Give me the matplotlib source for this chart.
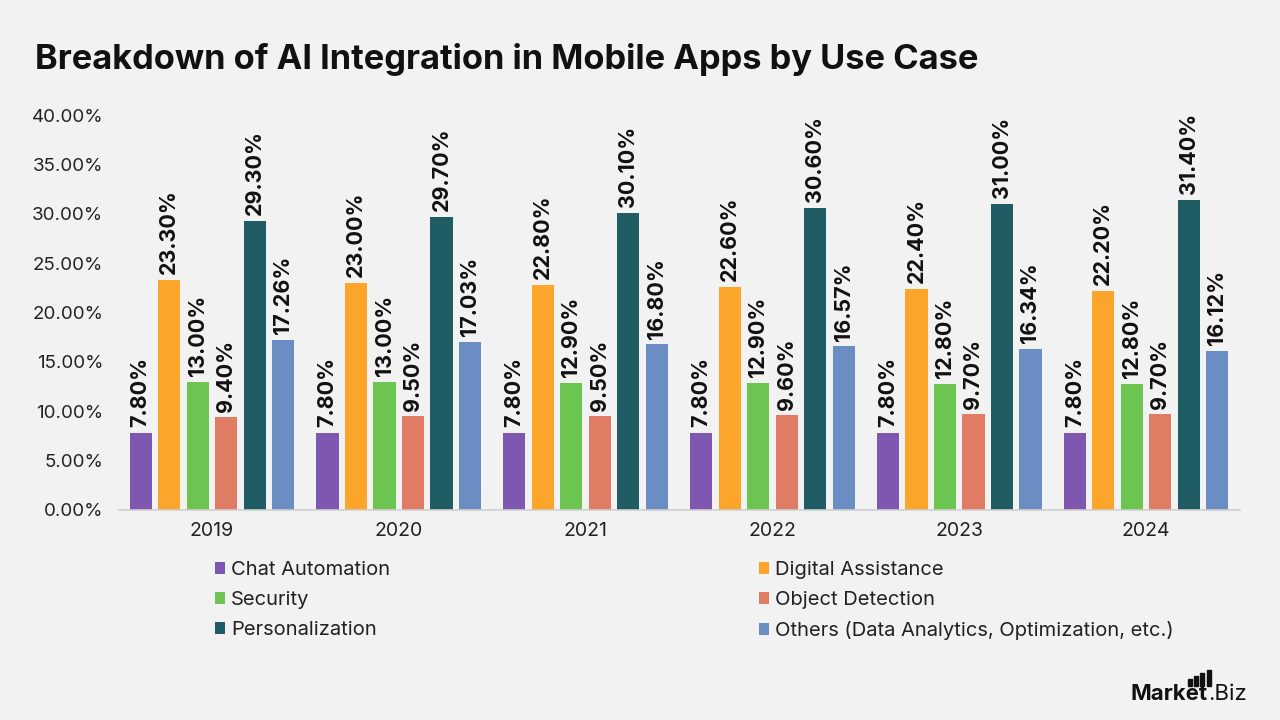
import matplotlib
matplotlib.use("Agg")
import matplotlib.pyplot as plt
from matplotlib.patches import Rectangle
import numpy as np

plt.rcParams['font.family'] = ['Inter', 'DejaVu Sans']

years = ["2019", "2020", "2021", "2022", "2023", "2024"]
series_names = ["Chat Automation", "Digital Assistance", "Security", "Object Detection",
                "Personalization", "Others (Data Analytics, Optimization, etc.)"]
chat_automation = [7.80, 7.80, 7.80, 7.80, 7.80, 7.80]
digital_assistance = [23.30, 23.00, 22.80, 22.60, 22.40, 22.20]
security = [13.00, 13.00, 12.90, 12.90, 12.80, 12.80]
object_detection = [9.40, 9.50, 9.50, 9.60, 9.70, 9.70]
personalization = [29.30, 29.70, 30.10, 30.60, 31.00, 31.40]
others = [17.26, 17.03, 16.80, 16.57, 16.34, 16.12]
series_values = [chat_automation, digital_assistance, security, object_detection, personalization, others]
colors = ["#7E57B0", "#FBA52A", "#6CC551", "#E07B64", "#1F5C63", "#6A8EC4"]
yticks = [0, 5, 10, 15, 20, 25, 30, 35, 40]

bg = "#F2F2F2"
fig = plt.figure(figsize=(12.8, 7.2), dpi=100, facecolor=bg)
ax = fig.add_axes([118.5/1280, 1 - 510/720, (1239.5-118.5)/1280, (510-115)/720])
ax.set_facecolor(bg)

x = np.arange(len(years))
pitch = 0.1525
width = 0.118
handles = []
for i, (name, vals, c) in enumerate(zip(series_names, series_values, colors)):
    pos = x + (i - 2.5) * pitch
    b = ax.bar(pos, vals, width=width, color=c, label=name, zorder=2)
    handles.append(b)
    for xp, v in zip(pos, vals):
        ax.annotate(f"{v:.2f}%", (xp, v), xytext=(0, 4), textcoords="offset points",
                    rotation=90, ha="center", va="bottom", fontsize=15.5,
                    fontweight="bold", color="#111111")

ax.set_xlim(-0.5, len(years) - 0.5)
ax.set_ylim(0, 40)
ax.set_yticks(yticks)
ax.set_yticklabels([f"{t:.2f}%" for t in yticks], fontsize=13.5, color="#222222")
ax.set_xticks(x)
ax.set_xticklabels(years, fontsize=14, color="#222222")
ax.tick_params(axis='both', length=0)
ax.tick_params(axis='y', pad=11)
ax.tick_params(axis='x', pad=9)
for s in ["top", "right", "left"]:
    ax.spines[s].set_visible(False)
ax.spines["bottom"].set_color("#D0D0D0")
ax.spines["bottom"].set_linewidth(1.2)

order = [0, 2, 4, 1, 3, 5]
leg = fig.legend([handles[k] for k in order], [series_names[k] for k in order],
                 ncol=2, loc="upper left", bbox_to_anchor=(199/1280, 1 - 545/720),
                 frameon=False, fontsize=14.5, handlelength=0.5, handleheight=0.5,
                 handletextpad=0.3, columnspacing=18.3, labelspacing=0.6,
                 borderpad=0.3, labelcolor="#222222")

fig.text(35/1280, 1 - 60/720, "Breakdown of AI Integration in Mobile Apps by Use Case",
         fontsize=24.8, fontweight="bold", color="#111111", va="center", ha="left")

# logo
t1 = fig.text(1131/1280, 1 - 700/720, "Market", fontsize=16, fontweight="bold", color="#111111",
              va="baseline", ha="left")
fig.canvas.draw()
bb = t1.get_window_extent()
fig.text(bb.x1/1280, 1 - 700/720, ".Biz", fontsize=16, color="#111111", va="baseline", ha="left")
for xb, top in zip([1188, 1194, 1200, 1207], [679, 676, 673, 670]):
    fig.patches.append(Rectangle((xb/1280, 1 - 686/720), 3.5/1280, (686 - top)/720,
                                 transform=fig.transFigure, color="#111111"))

fig.savefig("out.png", dpi=100, facecolor=bg)
